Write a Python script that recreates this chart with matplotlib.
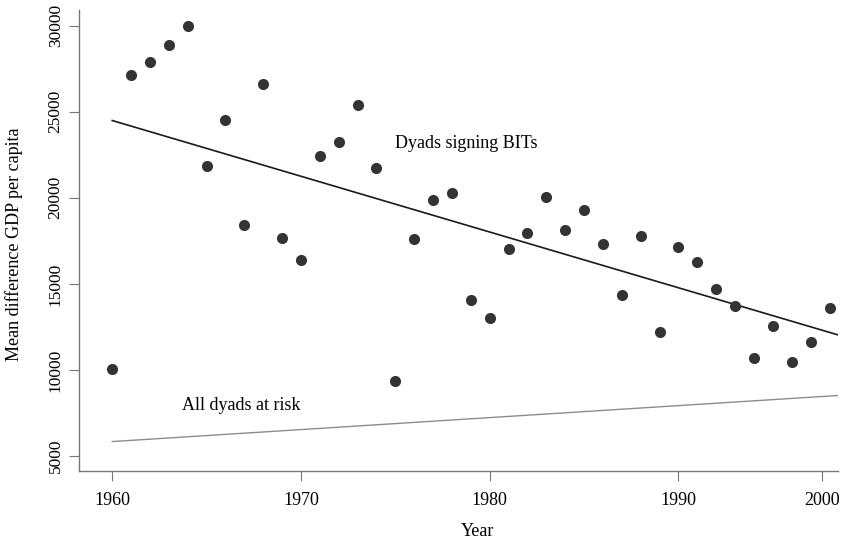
import matplotlib
matplotlib.use("Agg")
import matplotlib.pyplot as plt
import numpy as np

plt.rcParams['font.family'] = ['Liberation Serif', 'DejaVu Serif']

years = list(range(1960, 1999))
mean_diff = [10070, 27140, 27910, 28880, 29980, 21860, 24530, 18440, 26600, 17670,
             16410, 22440, 23270, 25400, 21730, 9350, 17630, 19870, 20280, 14050,
             13010, 17050, 17960, 20050, 18110, 19310, 17300, 14380, 17760, 12220,
             17170, 16280, 14710, 13730, 10710, 12580, 10480, 11610, 13590]

fit_years = [1960, 1998.5]
bit_fit = [24490, 12020]
risk_fit = [5840, 8520]

xtick_pos = [1960, 1970, 1980, 1990, 1997.6]
xtick_labels = ['1960', '1970', '1980', '1990', '2000']
ytick_vals = [5000, 10000, 15000, 20000, 25000, 30000]

fig = plt.figure(figsize=(8.47, 5.45), dpi=100)
ax = fig.add_axes([79/847, 1-471/545, (838-79)/847, (471-10)/545])

ax.plot(fit_years, risk_fit, color='#8c8c8c', lw=1.0)
ax.plot(fit_years, bit_fit, color='#1a1a1a', lw=1.2)
ax.scatter(years, mean_diff, s=64, color='#333333', zorder=3, linewidths=0)

ax.text(1974.96, 23140, 'Dyads signing BITs', fontsize=13, va='center', ha='left')
ax.text(1963.69, 7960, 'All dyads at risk', fontsize=13, va='center', ha='left')

ax.set_xlim(1958.24, 1998.45)
ax.set_ylim(4130, 30910)
ax.set_xticks(xtick_pos)
ax.set_xticklabels(xtick_labels, fontsize=13)
ax.set_yticks(ytick_vals)
ax.set_yticklabels([str(v) for v in ytick_vals], fontsize=12.5, rotation=90, va='center')

for s in ['top', 'right']:
    ax.spines[s].set_visible(False)
for s in ['left', 'bottom']:
    ax.spines[s].set_color('#777777')
    ax.spines[s].set_linewidth(1.0)
ax.tick_params(axis='both', length=7, color='#777777', width=0.8)
ax.tick_params(axis='x', pad=8)
ax.tick_params(axis='y', pad=4)

ax.set_xlabel('Year', fontsize=13)
ax.xaxis.set_label_coords((477.5-79)/759, -(532-471)/461, transform=ax.transAxes)
ax.set_ylabel('Mean difference GDP per capita', fontsize=13)
ax.yaxis.set_label_coords(-(79-14)/759, (471-244)/461, transform=ax.transAxes)
ax.xaxis.label.set_va('center')
ax.yaxis.label.set_va('center')

fig.savefig('out.png', dpi=100)
